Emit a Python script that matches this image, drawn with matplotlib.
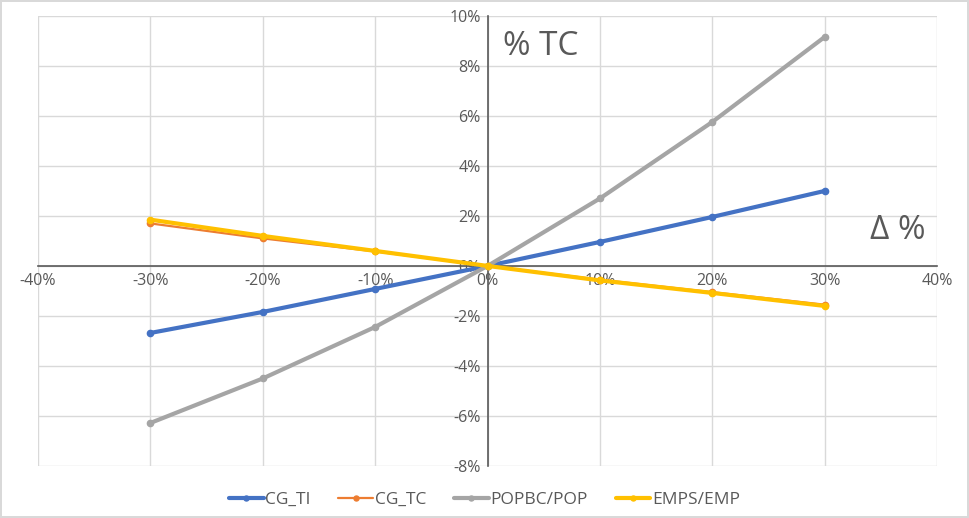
import matplotlib
matplotlib.use("Agg")
import matplotlib.pyplot as plt
from matplotlib.ticker import FuncFormatter, MultipleLocator

plt.rcParams['font.family'] = ['Open Sans', 'DejaVu Sans']

x_vals = [-30, -20, -10, 0, 10, 20, 30]
cg_ti = [-2.68, -1.84, -0.92, 0.0, 0.96, 1.96, 3.0]
cg_tc = [1.70, 1.10, 0.58, 0.0, -0.55, -1.05, -1.55]
popbc_pop = [-6.28, -4.50, -2.44, 0.0, 2.70, 5.76, 9.16]
emps_emp = [1.85, 1.20, 0.60, 0.0, -0.58, -1.08, -1.60]

series = [
    ("CG_TI", cg_ti, "#4472C4", 3.0),
    ("CG_TC", cg_tc, "#ED7D31", 1.6),
    ("POPBC/POP", popbc_pop, "#A5A5A5", 3.0),
    ("EMPS/EMP", emps_emp, "#FFC000", 3.0),
]

fig = plt.figure(figsize=(9.69, 5.18), dpi=100)
fig.patch.set_edgecolor('#d9d9d9')
fig.patch.set_linewidth(1.5)
ax = fig.add_axes([0.0392, 0.1004, 0.928, 0.869])

for name, vals, color, lw in series:
    ax.plot(x_vals, vals, color=color, lw=lw, marker='o', ms=4.5,
            label=name, solid_capstyle='round', zorder=3)

ax.set_xlim(-40, 40)
ax.set_ylim(-8, 10)
ax.xaxis.set_major_locator(MultipleLocator(10))
ax.yaxis.set_major_locator(MultipleLocator(2))
fmt = FuncFormatter(lambda v, p: f"{int(round(v))}%")
ax.xaxis.set_major_formatter(fmt)
ax.yaxis.set_major_formatter(fmt)

ax.grid(True, color='#d9d9d9', lw=1.0, zorder=0)
ax.set_axisbelow(True)
for s in ['left', 'bottom']:
    ax.spines[s].set_position(('data', 0))
    ax.spines[s].set_color('#595959')
    ax.spines[s].set_linewidth(1.2)
    ax.spines[s].set_zorder(2)
for s in ['top', 'right']:
    ax.spines[s].set_visible(False)
ax.tick_params(length=0, labelsize=11.5, labelcolor='#595959', pad=5)
for lbl in ax.get_yticklabels():
    lbl.set_horizontalalignment('right')

ax.text(0.517, 0.931, "% TC", transform=ax.transAxes, fontsize=24,
        color='#595959', va='center', ha='left')
ax.text(0.987, 0.524, "Δ %", transform=ax.transAxes, fontsize=24,
        color='#595959', va='center', ha='right')

leg = fig.legend(loc='center', bbox_to_anchor=(0.5, 0.035), ncol=4,
                 frameon=False, fontsize=12.5, handlelength=2.0,
                 handletextpad=0.1, columnspacing=1.6, labelcolor='#595959',
                 markerscale=0.8)

fig.savefig("out.png", dpi=100)
